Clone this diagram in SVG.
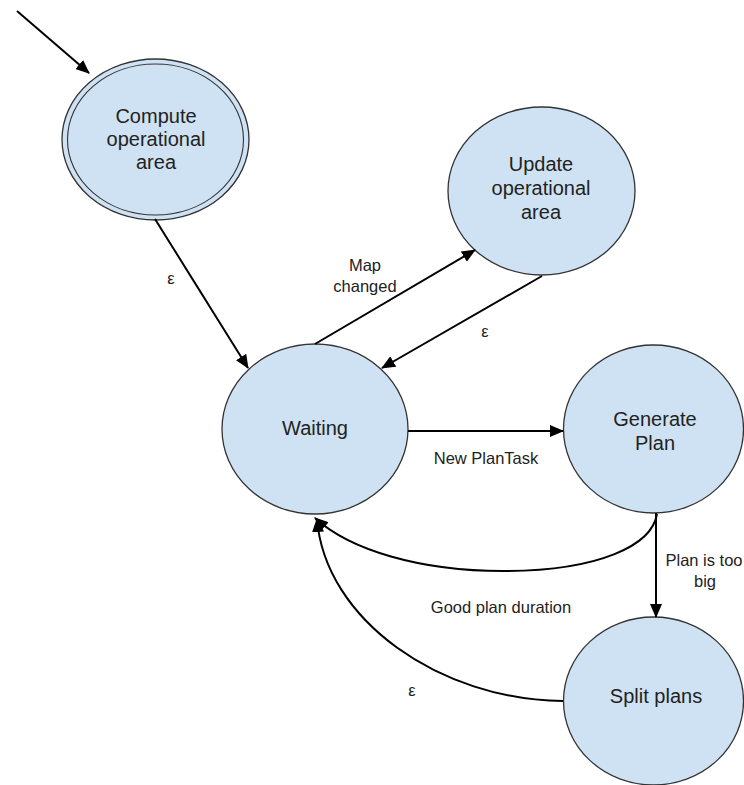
<svg xmlns="http://www.w3.org/2000/svg" width="744" height="785" viewBox="0 0 744 785">
  <style>
    .state { fill: #cfe2f3; stroke: #333; stroke-width: 1.3; }
    .inner { fill: none; stroke: #333; stroke-width: 1.1; }
    .name { font-family: "Liberation Sans", Arial, sans-serif; font-size: 20px; fill: #222; text-anchor: middle; }
    .edge { fill: none; stroke: #000; stroke-width: 2; marker-end: url(#arrow); }
    .label { font-family: "Liberation Sans", Arial, sans-serif; font-size: 16.5px; fill: #222; text-anchor: middle; }
  </style>
  <defs>
    <marker id="arrow" viewBox="0 0 14 12" refX="13" refY="6" markerWidth="14" markerHeight="12" markerUnits="userSpaceOnUse" orient="auto">
      <path d="M0,0 L14,6 L0,12 z" fill="#000"/>
    </marker>
  </defs>

  <rect width="744" height="785" fill="#fff"/>

  <!-- states -->
  <g id="compute">
    <ellipse class="state" cx="155.5" cy="139.5" rx="93.5" ry="80.5"/>
    <ellipse class="inner" cx="155.5" cy="139.5" rx="88" ry="75.5"/>
    <text class="name" x="156" y="123">Compute</text>
    <text class="name" x="156" y="146">operational</text>
    <text class="name" x="156" y="169">area</text>
  </g>
  <g id="update">
    <ellipse class="state" cx="541.5" cy="191" rx="93.5" ry="84"/>
    <text class="name" x="541" y="171">Update</text>
    <text class="name" x="541" y="195">operational</text>
    <text class="name" x="541" y="219">area</text>
  </g>
  <g id="waiting">
    <ellipse class="state" cx="315" cy="429" rx="93" ry="85"/>
    <text class="name" x="315" y="435">Waiting</text>
  </g>
  <g id="generate">
    <ellipse class="state" cx="653.5" cy="429" rx="90" ry="84"/>
    <text class="name" x="655" y="426">Generate</text>
    <text class="name" x="655" y="450">Plan</text>
  </g>
  <g id="split">
    <ellipse class="state" cx="653.5" cy="701" rx="90" ry="84"/>
    <text class="name" x="656" y="703">Split plans</text>
  </g>

  <!-- transitions -->
  <g id="connectors">
    <path class="edge" d="M17,11 L89,73"/>
    <path class="edge" d="M155,219 L248,368"/>
    <path class="edge" d="M315,344 L475,250"/>
    <path class="edge" d="M542,276 L382,368"/>
    <path class="edge" d="M408,431 L563,431"/>
    <path class="edge" d="M656,513 L656,617"/>
    <path class="edge" d="M657,514 C652,545 600,571 503,571 C420,571 350,550 315,518"/>
    <path class="edge" d="M563,701 C440,700 325,620 317,519"/>

    <text class="label" x="171" y="284">ε</text>
    <text class="label" x="365" y="271">Map</text>
    <text class="label" x="365" y="292">changed</text>
    <text class="label" x="485" y="337">ε</text>
    <text class="label" x="486" y="464">New PlanTask</text>
    <text class="label" x="704" y="566">Plan is too</text>
    <text class="label" x="705" y="587">big</text>
    <text class="label" x="501" y="613">Good plan duration</text>
    <text class="label" x="412" y="696">ε</text>
  </g>
</svg>
